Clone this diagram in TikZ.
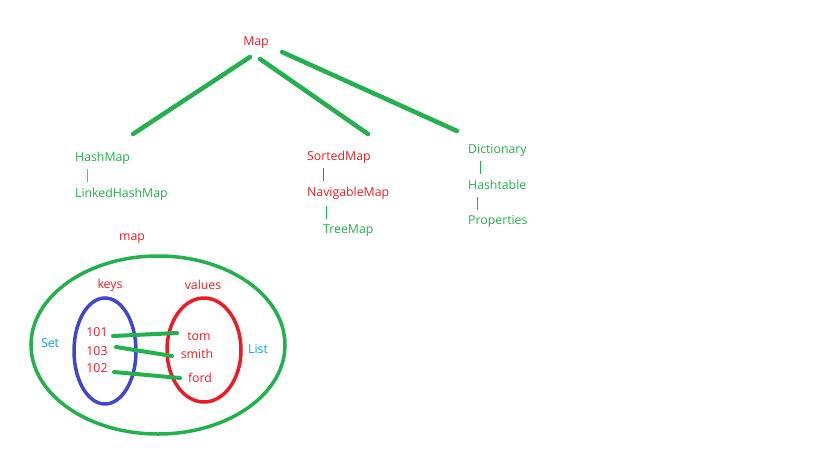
\documentclass[tikz,border=0pt]{standalone}
\usepackage{fontspec}
\setmainfont{Open Sans}
\definecolor{pred}{HTML}{ED1C24}
\definecolor{pgreen}{HTML}{22B14C}
\definecolor{pblue}{HTML}{3F48CC}
\definecolor{pcyan}{HTML}{00A2E8}
\begin{document}
\begin{tikzpicture}[x=1pt,y=-1pt,
  lbl/.style={inner sep=0pt,font=\fontsize{12.3}{14}\selectfont},
  lleft/.style={lbl,anchor=west},
  redt/.style={text=pred},
  greent/.style={text=pgreen},
  cyant/.style={text=pcyan},
  branch/.style={draw=pgreen,line width=4.5pt,line cap=round},
  link/.style={draw=pgreen,line width=4pt,line cap=round},
  bar/.style={line width=1pt}]
\useasboundingbox (0,0) rectangle (819,474);
% tree
\node[lbl,redt] (map) at (256,43) {Map};
\coordinate (m1) at (250,57);
\coordinate (m2) at (260,59);
\coordinate (m3) at (282,52);
\coordinate (hm) at (133,134);
\coordinate (sm) at (368,134);
\coordinate (dc) at (457,131);
\draw[branch] (m1) -- (hm);
\draw[branch] (m2) -- (sm);
\draw[branch] (m3) -- (dc);
\node[lleft,greent] (hashmap) at (75,158) {HashMap};
\node[lleft,greent] (linked) at (75,194) {LinkedHashMap};
\draw[bar,draw=pgreen!70!yellow] (87,169) -- (87,182);
\node[lleft,redt] (sorted) at (307,157) {SortedMap};
\node[lleft,redt] (navig) at (307,193) {NavigableMap};
\node[lleft,greent] (tree) at (323,231) {TreeMap};
\draw[bar,draw=pred!80!orange] (323,168) -- (323,181);
\draw[bar,draw=pgreen] (326,206) -- (326,219);
\node[lleft,greent] (dict) at (468,150) {Dictionary};
\node[lleft,greent] (htab) at (468,185) {Hashtable};
\node[lleft,greent] (props) at (468,221) {Properties};
\draw[bar,draw=pgreen] (480,161) -- (480,174);
\draw[bar,draw=pgreen] (477,197) -- (477,210);
% map diagram
\node[lbl,redt] (maplbl) at (132,239) {map};
\draw[pgreen,line width=3.5pt] (158,345) ellipse [x radius=127,y radius=89];
\draw[pblue,line width=3.5pt] (105,351) ellipse [x radius=31,y radius=53];
\draw[pred,line width=3.5pt] (204,350) ellipse [x radius=37,y radius=52];
\node[lbl,redt] (keys) at (110,285) {keys};
\node[lbl,redt] (values) at (203,285) {values};
\node[lbl,cyant] (set) at (50,343) {Set};
\node[lbl,cyant] (list) at (258,349) {List};
\node[lbl,redt] (k1) at (97,332) {101};
\node[lbl,redt] (k3) at (97,351) {103};
\node[lbl,redt] (k2) at (97,368) {102};
\node[lbl,redt] (tom) at (199,337) {tom};
\node[lbl,redt] (smith) at (197,354) {smith};
\node[lbl,redt] (ford) at (200,378) {ford};
\coordinate (a1) at (113,336); \coordinate (b1) at (177,333);
\coordinate (a2) at (116,347); \coordinate (b2) at (172,356);
\coordinate (a3) at (114,372); \coordinate (b3) at (180,378);
\draw[link] (a1) -- (b1);
\draw[link] (a2) -- (b2);
\draw[link] (a3) -- (b3);
\end{tikzpicture}
\end{document}
